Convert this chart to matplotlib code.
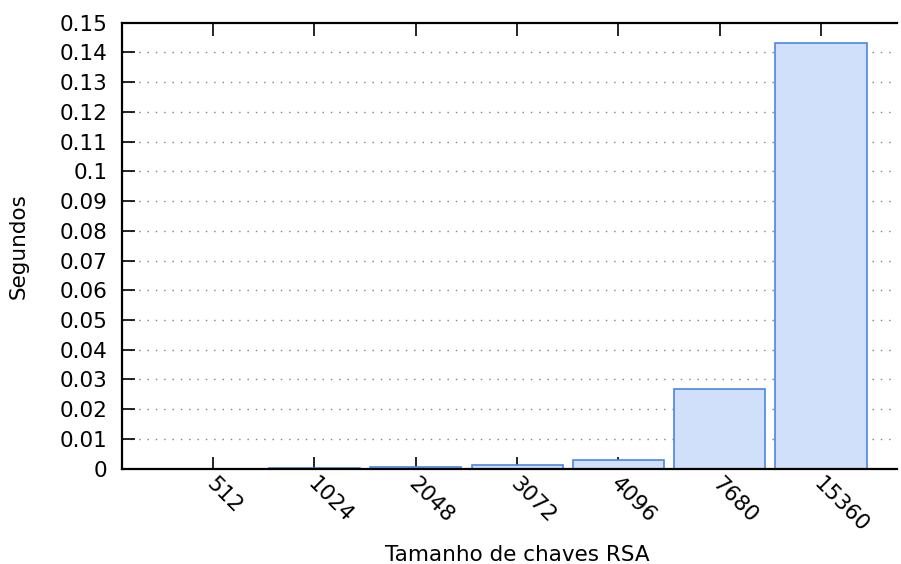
import matplotlib
matplotlib.use("Agg")
import matplotlib.pyplot as plt
import matplotlib.transforms as mtransforms
import numpy as np

key_sizes = ["512", "1024", "2048", "3072", "4096", "7680", "15360"]
seconds = [0.00005, 0.0001, 0.0004, 0.0014, 0.003, 0.0268, 0.1431]
y_ticks = [0, 0.01, 0.02, 0.03, 0.04, 0.05, 0.06, 0.07, 0.08, 0.09, 0.1,
           0.11, 0.12, 0.13, 0.14, 0.15]
y_tick_labels = ["0", "0.01", "0.02", "0.03", "0.04", "0.05", "0.06", "0.07",
                 "0.08", "0.09", "0.1", "0.11", "0.12", "0.13", "0.14", "0.15"]

plt.rcParams["font.family"] = "DejaVu Sans"
plt.rcParams["font.size"] = 15.5

fig = plt.figure(figsize=(9.01, 5.64), dpi=100)
ax = fig.add_axes([0.1354, 0.169, 0.8602, 0.7908])

x = np.arange(1, len(key_sizes) + 1)
ax.bar(x, seconds, width=0.9, color="#d0dffa", edgecolor="#4a86e8",
       linewidth=1.2, zorder=2)

ax.set_xlim(0.1, 7.75)
ax.set_ylim(0, 0.15)
ax.set_yticks(y_ticks)
ax.set_yticklabels(y_tick_labels)
ax.set_xticks(x)
ax.set_xticklabels(key_sizes, rotation=-45, ha="left", va="center",
                   rotation_mode="anchor")

ax.tick_params(axis="y", direction="in", length=9, width=1.2, pad=10.5)
ax.tick_params(axis="x", direction="in", length=9, width=1.2, pad=9,
               top=True, labeltop=False)

# nudge the rotated key size labels a little to the left
shift = mtransforms.ScaledTranslation(-4 / 100, 0, fig.dpi_scale_trans)
for lbl in ax.get_xticklabels():
    lbl.set_transform(lbl.get_transform() + shift)

for side in ("left", "top", "bottom"):
    ax.spines[side].set_linewidth(1.6)
ax.spines["right"].set_visible(False)

for y in y_ticks[1:-1]:
    ax.axhline(y, color="#808080", linewidth=1, linestyle=(0, (1, 5)), zorder=1)

ax.set_xlabel("Tamanho de chaves RSA")
ax.xaxis.set_label_coords(0.51, -0.171)
ax.set_ylabel("Segundos", labelpad=22)

fig.savefig("out.png", dpi=100)
